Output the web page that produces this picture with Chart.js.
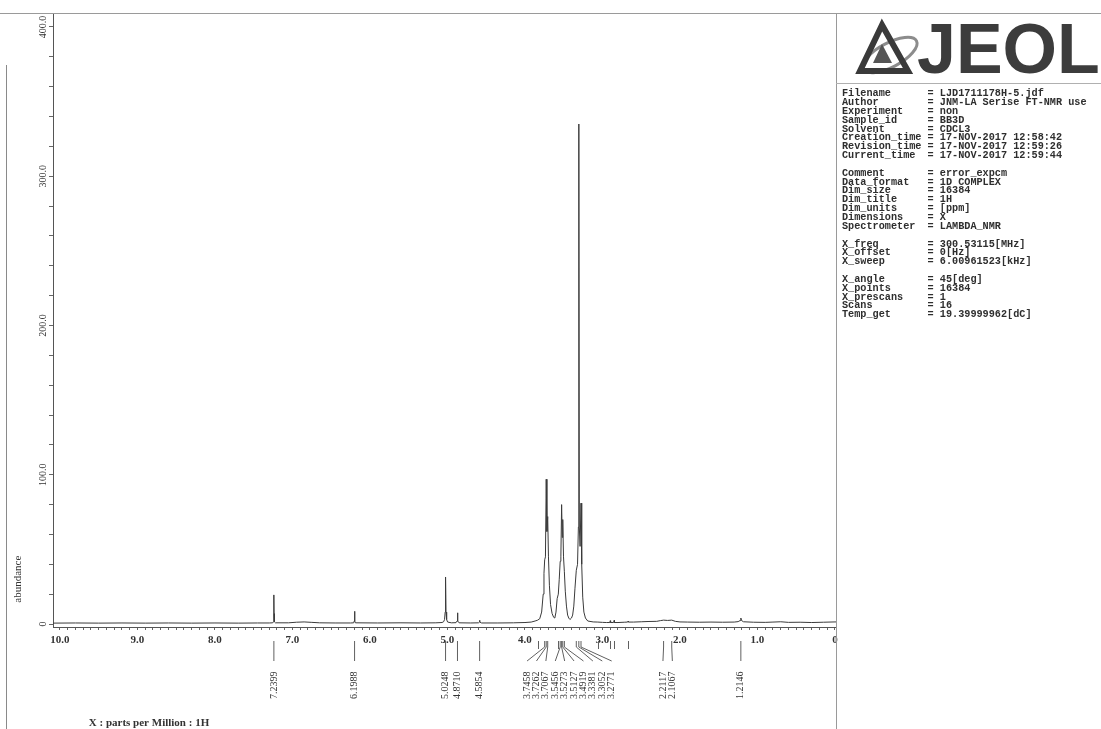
<!DOCTYPE html>
<html>
<head>
<meta charset="utf-8">
<script src="https://cdn.jsdelivr.net/npm/chart.js@4.4.1/dist/chart.umd.min.js"></script>
<style>
  html, body { margin: 0; padding: 0; background: #fff; }
  #wrap { position: relative; width: 1101px; height: 729px; overflow: hidden; background: #fff; }
  #c { position: absolute; left: 0; top: 0; }
  .ln { position: absolute; background: #9a9a9a; }
  #info { position: absolute; left: 842px; top: 90.2px; margin: 0;
          font-family: "Liberation Mono", "DejaVu Sans Mono", monospace; font-weight: bold;
          font-size: 10.2px; line-height: 8.84px; color: #2e2e2e; white-space: pre; }
  #logo { position: absolute; left: 836px; top: 13px; }
</style>
</head>
<body>
<div id="wrap">
  <canvas id="c" width="1101" height="729"></canvas>
  <div class="ln" style="left:0;top:13px;width:1101px;height:1px;"></div>
  <div class="ln" style="left:6px;top:65px;width:1px;height:664px;background:#8a8a8a;"></div>
  <div class="ln" style="left:836px;top:13px;width:1px;height:716px;"></div>
  <div class="ln" style="left:836px;top:83px;width:265px;height:1px;background:#b0b0b0;"></div>
  <svg id="logo" width="265" height="70" viewBox="0 0 265 70">
    <ellipse cx="54" cy="42" rx="30" ry="12" transform="rotate(-28 54 42)" fill="none" stroke="#8c8c8c" stroke-width="3"/>
    <polygon points="46,12 24,58 72,58" fill="none" stroke="#3a3a3a" stroke-width="6" stroke-linejoin="miter"/>
    <polygon points="46,31 37,50 56,50" fill="#555"/>
    <text x="81" y="60" font-family="Liberation Sans, Arial, sans-serif" font-weight="bold" font-size="70" fill="#3c3c3c">JEOL</text>
  </svg>
  <pre id="info"></pre>
</div>
<script>
// ---------- header / parameter text ----------
const infoKeys = ['Filename','Author','Experiment','Sample_id','Solvent','Creation_time','Revision_time','Current_time','',
  'Comment','Data_format','Dim_size','Dim_title','Dim_units','Dimensions','Spectrometer','',
  'X_freq','X_offset','X_sweep','',
  'X_angle','X_points','X_prescans','Scans','Temp_get'];
const infoValues = ['LJD1711178H-5.jdf','JNM-LA Serise FT-NMR use','non','BB3D','CDCL3','17-NOV-2017 12:58:42','17-NOV-2017 12:59:26','17-NOV-2017 12:59:44','',
  'error_expcm','1D COMPLEX','16384','1H','[ppm]','X','LAMBDA_NMR','',
  '300.53115[MHz]','0[Hz]','6.00961523[kHz]','',
  '45[deg]','16384','1','16','19.39999962[dC]'];

// ---------- axis ticks ----------
const xTickValues = [10, 9, 8, 7, 6, 5, 4, 3, 2, 1, 0];
const xTickLabels = ['10.0', '9.0', '8.0', '7.0', '6.0', '5.0', '4.0', '3.0', '2.0', '1.0', '0'];
const yTickValues = [0, 100, 200, 300, 400];
const yTickLabels = ['0', '100.0', '200.0', '300.0', '400.0'];
const xTitle = 'X : parts per Million : 1H';
const yTitle = 'abundance';

// ---------- spectrum (ppm, abundance) ----------
const shiftPpm = [
  10.09, 9.8, 9.5, 9.2, 8.9, 8.6, 8.3, 8.0, 7.7, 7.45, 7.3,
  7.255, 7.245, 7.241, 7.2399, 7.238, 7.234, 7.22,
  7.05, 6.95, 6.85, 6.75, 6.65, 6.45, 6.25,
  6.21, 6.203, 6.1988, 6.195, 6.188,
  5.9, 5.6, 5.35, 5.15, 5.07,
  5.05, 5.038, 5.03, 5.0248, 5.019, 5.011, 4.998, 4.95,
  4.89, 4.876, 4.8710, 4.866, 4.85,
  4.7, 4.6, 4.589, 4.5854, 4.582, 4.56,
  4.35, 4.15, 4.0, 3.92, 3.87,
  3.84, 3.81, 3.785, 3.765, 3.755, 3.7458, 3.736, 3.7262, 3.717, 3.7067, 3.697, 3.685, 3.67, 3.65, 3.63, 3.615,
  3.60, 3.585, 3.57, 3.558, 3.5456, 3.537, 3.5273, 3.519, 3.5127, 3.503, 3.4919, 3.48, 3.465, 3.45, 3.435, 3.42,
  3.40, 3.385, 3.37, 3.355, 3.3381, 3.322, 3.311, 3.3052, 3.299, 3.289, 3.2771, 3.268, 3.255, 3.24, 3.22, 3.19,
  3.12, 3.06, 3.0, 2.95, 2.905, 2.90, 2.895, 2.86, 2.855, 2.85, 2.845, 2.8, 2.72, 2.675, 2.67, 2.665, 2.6,
  2.5, 2.4, 2.3, 2.25, 2.2117, 2.16, 2.1067, 2.06, 2.0, 1.9, 1.75, 1.6, 1.45, 1.3, 1.25, 1.225, 1.2146, 1.205, 1.18,
  1.05, 0.9, 0.8, 0.7, 0.6, 0.45, 0.3, 0.15, 0.0, -0.013
];
const abundance = [
  0.6, 0.7, 0.6, 0.7, 0.6, 0.7, 0.6, 0.7, 0.6, 0.7, 0.7,
  0.8, 1.5, 7, 19.5, 7, 1.5, 0.8,
  0.8, 1.2, 1.4, 1.1, 0.8, 0.7, 0.7,
  0.8, 2, 8.5, 2, 0.8,
  0.7, 0.8, 0.7, 0.8, 1.0,
  1.5, 3, 8, 31.5, 8, 3, 1.3, 0.8,
  0.9, 2, 7.5, 2, 0.8,
  0.7, 0.8, 1.3, 2.5, 1.3, 0.7,
  0.7, 0.8, 1.0, 1.3, 2.0,
  2.5, 3.5, 8, 20, 34, 43, 45, 97, 62, 72, 45, 26, 13, 7, 4.5, 4,
  8, 17, 20, 30, 42, 45, 80, 58, 70, 45, 35, 22, 12, 6, 4, 3,
  4, 6, 12, 24, 36, 40, 65, 335, 65, 52, 81, 40, 18, 8, 4, 2,
  1.4, 1.3, 1.1, 1.0, 1.0, 2.2, 1.0, 1.0, 1.8, 2.4, 1.0, 1.0, 1.2, 1.3, 1.9, 1.3, 1.3,
  1.5, 1.7, 1.8, 2.3, 2.6, 2.4, 2.6, 1.8, 1.4, 1.3, 1.2, 1.3, 1.2, 1.3, 1.6, 2.3, 4, 2.3, 1.5,
  1.2, 1.1, 1.3, 1.5, 1.1, 1.2, 1.0, 1.2, 1.4, 1.4
];

// ---------- peak picks ----------
const peakPpm = [7.2399, 6.1988, 5.0248, 4.8710, 4.5854,
  3.7458, 3.7262, 3.7067, 3.5456, 3.5273, 3.5127, 3.4919, 3.3381, 3.3052, 3.2771,
  2.2117, 2.1067, 1.2146];
const peakText = ['7.2399', '6.1988', '5.0248', '4.8710', '4.5854',
  '3.7458', '3.7262', '3.7067', '3.5456', '3.5273', '3.5127', '3.4919', '3.3381', '3.3052', '3.2771',
  '2.2117', '2.1067', '1.2146'];
const extraMarkPpm = [3.83, 3.58, 3.06, 2.90, 2.85, 2.67];

document.getElementById('info').textContent = infoKeys.map((k, i) =>
  k ? (k.padEnd(14, ' ') + '= ' + infoValues[i]) : '').join('\n');

const points = shiftPpm.map((p, i) => ({ x: p, y: abundance[i] }));

function spreadLabels(xs, gap, shift) {
  // xs: pixel positions; returns label pixel positions keeping a minimum gap
  const order = xs.map((v, i) => i).sort((a, b) => xs[a] - xs[b]);
  let groups = order.map(i => ({ members: [i], center: xs[i] }));
  let merged = true;
  while (merged) {
    merged = false;
    for (let g = 0; g < groups.length - 1; g++) {
      const a = groups[g], b = groups[g + 1];
      const aLast = a.center + (a.members.length - 1) / 2 * gap;
      const bFirst = b.center - (b.members.length - 1) / 2 * gap;
      if (bFirst - aLast < gap) {
        const members = a.members.concat(b.members);
        const center = members.reduce((s, i) => s + xs[i], 0) / members.length;
        groups.splice(g, 2, { members, center });
        merged = true;
        break;
      }
    }
  }
  const out = new Array(xs.length);
  groups.forEach(g => {
    const off = g.members.length > 2 ? shift : 0;
    g.members.forEach((i, k) => { out[i] = g.center + off + (k - (g.members.length - 1) / 2) * gap; });
  });
  return out;
}

const decor = {
  id: 'decor',
  afterDraw(chart) {
    const { ctx, chartArea } = chart;
    const xs = chart.scales.x, ys = chart.scales.y;
    ctx.save();
    // y tick labels (rotated)
    ctx.fillStyle = '#333';
    ctx.font = '10px "Liberation Serif", serif';
    ctx.textAlign = 'center';
    ctx.textBaseline = 'middle';
    ys.ticks.forEach(t => {
      const i = yTickValues.findIndex(v => Math.abs(v - t.value) < 1e-6);
      if (i < 0) return;
      const py = ys.getPixelForValue(t.value);
      ctx.save();
      ctx.translate(chartArea.left - 10, py);
      ctx.rotate(-Math.PI / 2);
      ctx.fillText(yTickLabels[i], 0, 0);
      ctx.restore();
    });
    // y title
    ctx.font = '11px "Liberation Serif", serif';
    ctx.save();
    ctx.translate(18, ys.getPixelForValue(30));
    ctx.rotate(-Math.PI / 2);
    ctx.fillText(yTitle, 0, 0);
    ctx.restore();
    // x title
    ctx.font = 'bold 11px "Liberation Serif", serif';
    ctx.fillText(xTitle, 149, 723);

    // peak pick markers
    const base = chartArea.bottom;
    const px = peakPpm.map(p => xs.getPixelForValue(p));
    const lx = spreadLabels(px, 9.4, 7);
    ctx.strokeStyle = '#606060';
    ctx.lineWidth = 1;
    extraMarkPpm.forEach(p => {
      const x = Math.round(xs.getPixelForValue(p)) + 0.5;
      ctx.beginPath(); ctx.moveTo(x, base + 14); ctx.lineTo(x, base + 22); ctx.stroke();
    });
    px.forEach((x, i) => {
      ctx.beginPath();
      ctx.moveTo(x, base + 14);
      ctx.lineTo(x, base + 20);
      ctx.lineTo(lx[i], base + 34);
      ctx.stroke();
    });
    ctx.font = '10px "Liberation Serif", serif';
    ctx.textAlign = 'left';
    ctx.textBaseline = 'middle';
    ctx.fillStyle = '#333';
    lx.forEach((x, i) => {
      ctx.save();
      ctx.translate(x, base + 72);
      ctx.rotate(-Math.PI / 2);
      ctx.fillText(peakText[i], 0, 0);
      ctx.restore();
    });
    ctx.restore();
  }
};

new Chart(document.getElementById('c'), {
  type: 'scatter',
  data: {
    datasets: [{
      data: points,
      showLine: true,
      borderColor: '#3a3a3a',
      borderWidth: 1,
      pointRadius: 0,
      tension: 0
    }]
  },
  options: {
    responsive: false,
    animation: false,
    devicePixelRatio: 1,
    layout: { padding: { top: 14, right: 265, left: 0, bottom: 0 } },
    plugins: { legend: { display: false }, tooltip: { enabled: false } },
    scales: {
      x: {
        type: 'linear',
        reverse: true,
        min: -0.013,
        max: 10.09,
        afterFit: s => { s.height = 102; },
        grid: { drawOnChartArea: false, drawTicks: true, tickLength: 3, tickColor: '#666' },
        border: { display: true, color: '#555', width: 1 },
        ticks: {
          stepSize: 0.1,
          autoSkip: false,
          maxRotation: 0,
          minRotation: 0,
          includeBounds: false,
          padding: 4,
          color: '#333',
          font: { family: '"Liberation Serif", serif', size: 11, weight: 'bold' },
          callback: (value) => {
            const i = xTickValues.findIndex(v => Math.abs(v - value) < 1e-6);
            return i >= 0 ? xTickLabels[i] : '';
          }
        }
      },
      y: {
        type: 'linear',
        min: -2,
        max: 408.7,
        afterFit: s => { s.width = 53; },
        grid: { drawOnChartArea: false, drawTicks: true, tickLength: 4, tickColor: '#666' },
        border: { display: true, color: '#555', width: 1 },
        ticks: { stepSize: 20, display: false, includeBounds: false }
      }
    }
  },
  plugins: [decor]
});
</script>
</body>
</html>
